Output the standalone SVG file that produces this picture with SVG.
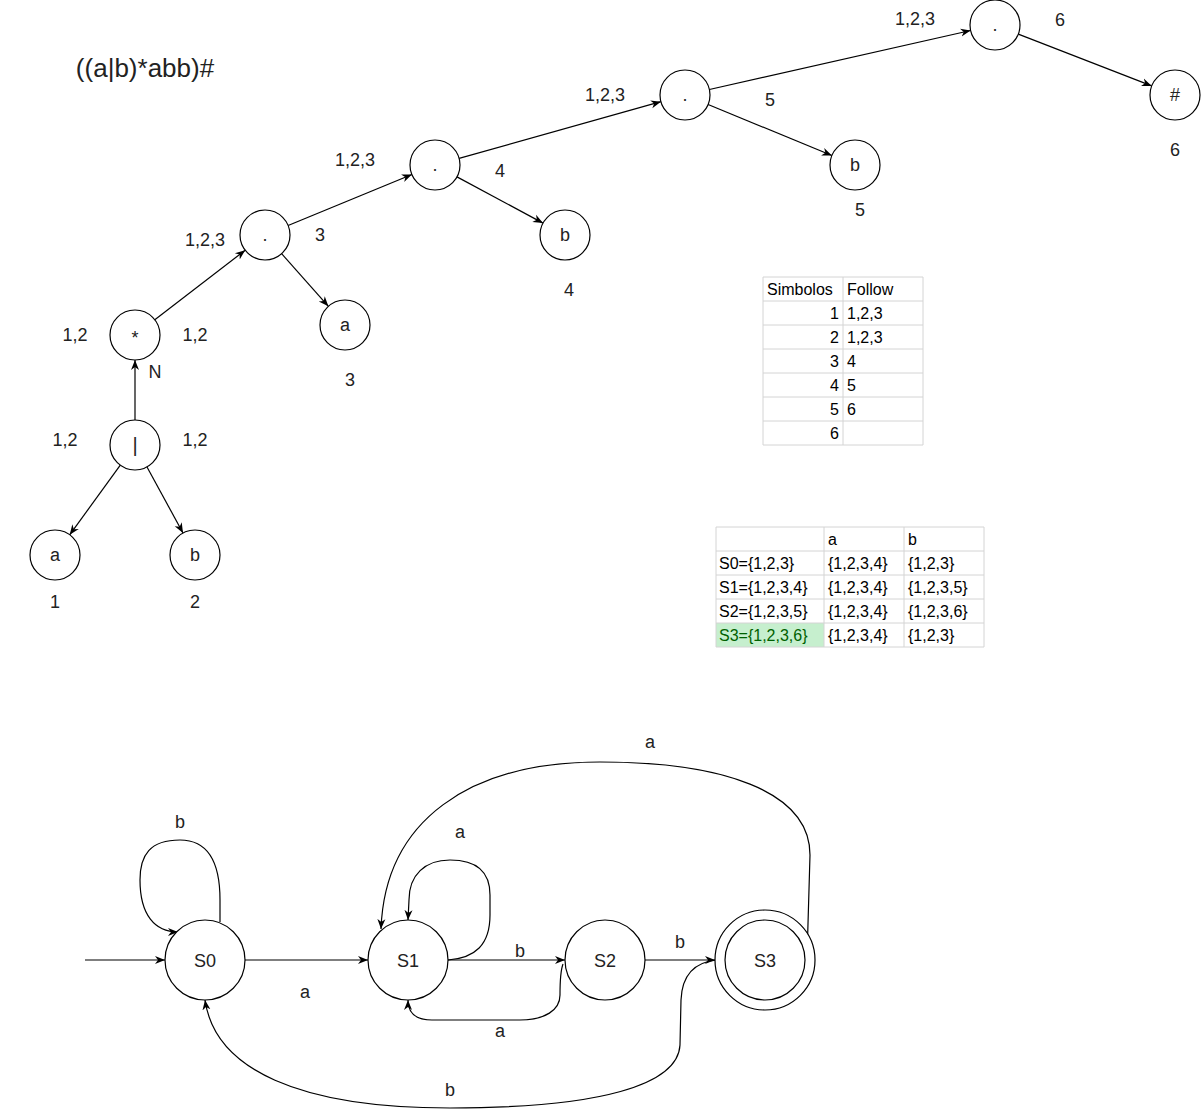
<svg xmlns="http://www.w3.org/2000/svg" width="1201" height="1112" viewBox="0 0 1201 1112">
<style>
.n{fill:#fff;stroke:#000;stroke-width:1.2}
.e{fill:none;stroke:#000;stroke-width:1.2}
.t{font-family:"Liberation Sans",Arial,sans-serif;font-size:18px;fill:#222;text-anchor:middle}
.tt{font-family:"Liberation Sans",Arial,sans-serif;font-size:16px;fill:#000}
.g{fill:none;stroke:#d4d4d4;stroke-width:1}
</style>
<defs>
<marker id="arr" viewBox="0 0 10 10" refX="10" refY="5" markerWidth="10" markerHeight="10" markerUnits="userSpaceOnUse" orient="auto">
<path d="M0,1 L10,5 L0,9 L3,5 z" fill="#000"/>
</marker>
</defs>
<rect width="1201" height="1112" fill="#fff"/>
<text x="145" y="77" class="t" style="font-size:26px">((a|b)*abb)#</text>

<g id="connectors">
<line class="e" x1="120.3" y1="465.2" x2="69.7" y2="534.8" marker-end="url(#arr)"/>
<line class="e" x1="147" y1="467" x2="183" y2="533" marker-end="url(#arr)"/>
<line class="e" x1="135" y1="420" x2="135" y2="360" marker-end="url(#arr)"/>
<line class="e" x1="154.8" y1="319.8" x2="245.2" y2="250.2" marker-end="url(#arr)"/>
<line class="e" x1="281.6" y1="253.7" x2="328.4" y2="306.3" marker-end="url(#arr)"/>
<line class="e" x1="288.1" y1="225.5" x2="411.9" y2="174.5" marker-end="url(#arr)"/>
<line class="e" x1="457" y1="176.9" x2="543" y2="223.1" marker-end="url(#arr)"/>
<line class="e" x1="459.1" y1="158.3" x2="660.9" y2="101.7" marker-end="url(#arr)"/>
<line class="e" x1="708.1" y1="104.5" x2="831.9" y2="155.5" marker-end="url(#arr)"/>
<line class="e" x1="709.4" y1="89.5" x2="970.6" y2="30.5" marker-end="url(#arr)"/>
<line class="e" x1="1018.3" y1="34.1" x2="1151.7" y2="85.9" marker-end="url(#arr)"/>

<line class="e" x1="85" y1="960" x2="165" y2="960" marker-end="url(#arr)"/>
<line class="e" x1="245" y1="960" x2="368" y2="960" marker-end="url(#arr)"/>
<path class="e" d="M220,922 L220,900 C220,865 210,840 180,840 C150,840 140,855 140,880 C140,915 155,932 178,932" marker-end="url(#arr)"/>
<path class="e" d="M448,960 C475,958 490,945 490,915 L490,895 C490,870 475,860 450,860 C425,860 409,875 409,900 L408,920" marker-end="url(#arr)"/>
<line class="e" x1="448" y1="960" x2="565" y2="960" marker-end="url(#arr)"/>
<path class="e" d="M563,964 C560,972 560,982 560,995 C560,1010 545,1020 520,1020 L432,1020 C416,1020 408,1013 408,1000" marker-end="url(#arr)"/>
<line class="e" x1="645" y1="960" x2="715" y2="960" marker-end="url(#arr)"/>
<path class="e" d="M717,960 C695,962 682,975 681,1000 L680,1045 C678,1085 600,1108 450,1108 C300,1108 215,1070 205,1000" marker-end="url(#arr)"/>
<path class="e" d="M807,958 L810,855 C810,790 720,762 600,762 C470,762 385,820 381,929" marker-end="url(#arr)"/>
</g>

<g id="tree-a1"><circle class="n" cx="55" cy="555" r="25"/><text class="t" x="55" y="561">a</text></g>
<g id="tree-b2"><circle class="n" cx="195" cy="555" r="25"/><text class="t" x="195" y="561">b</text></g>
<g id="tree-or"><circle class="n" cx="135" cy="445" r="25"/><text class="t" x="135" y="452" style="font-size:20px">|</text></g>
<g id="tree-star"><circle class="n" cx="135" cy="335" r="25"/><text class="t" x="135" y="344">*</text></g>
<g id="tree-cat1"><circle class="n" cx="265" cy="235" r="25"/><text class="t" x="265" y="241">.</text></g>
<g id="tree-a3"><circle class="n" cx="345" cy="325" r="25"/><text class="t" x="345" y="331">a</text></g>
<g id="tree-cat2"><circle class="n" cx="435" cy="165" r="25"/><text class="t" x="435" y="171">.</text></g>
<g id="tree-b4"><circle class="n" cx="565" cy="235" r="25"/><text class="t" x="565" y="241">b</text></g>
<g id="tree-cat3"><circle class="n" cx="685" cy="95" r="25"/><text class="t" x="685" y="101">.</text></g>
<g id="tree-b5"><circle class="n" cx="855" cy="165" r="25"/><text class="t" x="855" y="171">b</text></g>
<g id="tree-cat4"><circle class="n" cx="995" cy="25" r="25"/><text class="t" x="995" y="31">.</text></g>
<g id="tree-hash"><circle class="n" cx="1175" cy="95" r="25"/><text class="t" x="1175" y="101">#</text></g>

<g id="tree-labels">
<text class="t" x="75" y="341">1,2</text>
<text class="t" x="195" y="341">1,2</text>
<text class="t" x="155" y="378">N</text>
<text class="t" x="65" y="446">1,2</text>
<text class="t" x="195" y="446">1,2</text>
<text class="t" x="205" y="246">1,2,3</text>
<text class="t" x="320" y="241">3</text>
<text class="t" x="350" y="386">3</text>
<text class="t" x="55" y="608">1</text>
<text class="t" x="195" y="608">2</text>
<text class="t" x="355" y="166">1,2,3</text>
<text class="t" x="500" y="177">4</text>
<text class="t" x="569" y="296">4</text>
<text class="t" x="605" y="101">1,2,3</text>
<text class="t" x="770" y="106">5</text>
<text class="t" x="860" y="216">5</text>
<text class="t" x="915" y="25">1,2,3</text>
<text class="t" x="1060" y="26">6</text>
<text class="t" x="1175" y="156">6</text>
</g>

<g id="follow-table">
<path class="g" d="M763,277 H923 M763,301 H923 M763,325 H923 M763,349 H923 M763,373 H923 M763,397 H923 M763,421 H923 M763,445 H923 M763,277 V445 M843,277 V445 M923,277 V445"/>
<text class="tt" x="767" y="295">Simbolos</text>
<text class="tt" x="847" y="295">Follow</text>
<g style="text-anchor:end">
<text class="tt" x="839" y="319">1</text>
<text class="tt" x="839" y="343">2</text>
<text class="tt" x="839" y="367">3</text>
<text class="tt" x="839" y="391">4</text>
<text class="tt" x="839" y="415">5</text>
<text class="tt" x="839" y="439">6</text>
</g>
<text class="tt" x="847" y="319">1,2,3</text>
<text class="tt" x="847" y="343">1,2,3</text>
<text class="tt" x="847" y="367">4</text>
<text class="tt" x="847" y="391">5</text>
<text class="tt" x="847" y="415">6</text>
</g>

<g id="transition-table">
<rect x="716" y="623" width="108" height="24" fill="#c6efce"/>
<path class="g" d="M716,527 H984 M716,551 H984 M716,575 H984 M716,599 H984 M716,623 H984 M716,647 H984 M716,527 V647 M824,527 V647 M904,527 V647 M984,527 V647"/>
<text class="tt" x="828" y="545">a</text>
<text class="tt" x="908" y="545">b</text>
<text class="tt" x="719" y="569">S0={1,2,3}</text>
<text class="tt" x="828" y="569">{1,2,3,4}</text>
<text class="tt" x="908" y="569">{1,2,3}</text>
<text class="tt" x="719" y="593">S1={1,2,3,4}</text>
<text class="tt" x="828" y="593">{1,2,3,4}</text>
<text class="tt" x="908" y="593">{1,2,3,5}</text>
<text class="tt" x="719" y="617">S2={1,2,3,5}</text>
<text class="tt" x="828" y="617">{1,2,3,4}</text>
<text class="tt" x="908" y="617">{1,2,3,6}</text>
<text class="tt" x="719" y="641" style="fill:#006100">S3={1,2,3,6}</text>
<text class="tt" x="828" y="641">{1,2,3,4}</text>
<text class="tt" x="908" y="641">{1,2,3}</text>
</g>

<g id="S0"><circle class="n" cx="205" cy="960" r="40"/><text class="t" x="205" y="967">S0</text></g>
<g id="S1"><circle class="n" cx="408" cy="960" r="40"/><text class="t" x="408" y="967">S1</text></g>
<g id="S2"><circle class="n" cx="605" cy="960" r="40"/><text class="t" x="605" y="967">S2</text></g>
<g id="S3"><circle class="n" cx="765" cy="960" r="50"/><circle class="n" cx="765" cy="960" r="40"/><text class="t" x="765" y="967">S3</text></g>

<g id="edge-labels">
<text class="t" x="180" y="828">b</text>
<text class="t" x="460" y="838">a</text>
<text class="t" x="520" y="957">b</text>
<text class="t" x="305" y="998">a</text>
<text class="t" x="500" y="1037">a</text>
<text class="t" x="450" y="1096">b</text>
<text class="t" x="680" y="948">b</text>
<text class="t" x="650" y="748">a</text>
</g>
</svg>
